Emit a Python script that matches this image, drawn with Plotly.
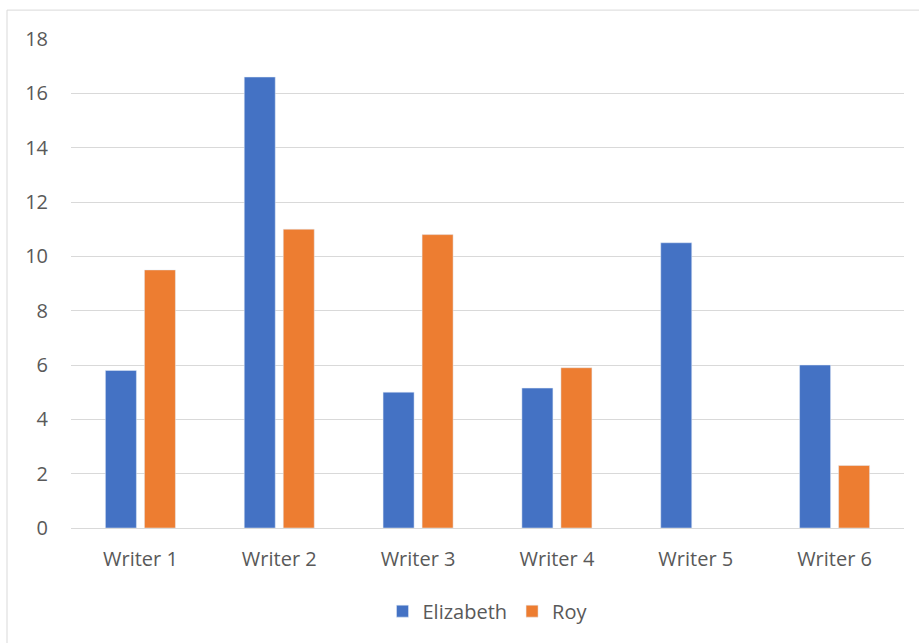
import plotly.graph_objects as go

categories = ["Writer 1", "Writer 2", "Writer 3", "Writer 4", "Writer 5", "Writer 6"]
elizabeth = [5.8, 16.6, 5.0, 5.15, 10.5, 6.0]
roy = [9.5, 11.0, 10.8, 5.9, None, 2.3]
y_ticks = [0, 2, 4, 6, 8, 10, 12, 14, 16, 18]

W, H = 919, 643
ml, mr, mt, mb = 71, 15, 39, 113
pw, ph = W - ml - mr, H - mt - mb

fig = go.Figure()
fig.add_trace(go.Bar(name="Elizabeth", x=categories, y=elizabeth, marker_color="#4472C4"))
fig.add_trace(go.Bar(name="Roy", x=categories, y=roy, marker_color="#ED7D31"))

font_family = "Open Sans, Noto Sans, sans-serif"
fs = 20
fig.update_layout(
    width=W, height=H,
    margin=dict(l=ml, r=mr, t=mt, b=mb),
    paper_bgcolor="white", plot_bgcolor="white",
    barmode="group", bargap=0.438, bargroupgap=0.205,
    font=dict(family=font_family, size=fs, color="#595959"),
    showlegend=True,
    legend=dict(orientation="h", x=0.5, xanchor="center", y=-0.17, yanchor="middle",
                font=dict(size=fs, color="#595959"), itemwidth=30, traceorder="normal"),
    xaxis=dict(showgrid=False, showline=False, ticks="", ticklabelstandoff=17,
               tickfont=dict(size=fs, color="#595959")),
    yaxis=dict(range=[0, 18], tickvals=y_ticks, showgrid=True, gridcolor="#d9d9d9",
               gridwidth=1, zeroline=True, zerolinecolor="#d9d9d9", zerolinewidth=1,
               showline=False, ticks="", ticklabelstandoff=22,
               tickfont=dict(size=fs, color="#595959")),
    shapes=[dict(type="rect", xref="paper", yref="paper",
                 x0=(7 - ml) / pw, x1=(W + 20 - ml) / pw,
                 y0=1 - (H + 20 - mt) / ph, y1=1 + (mt - 10) / ph,
                 line=dict(color="#d9d9d9", width=1), layer="below")],
)
fig.write_html("out.html")
